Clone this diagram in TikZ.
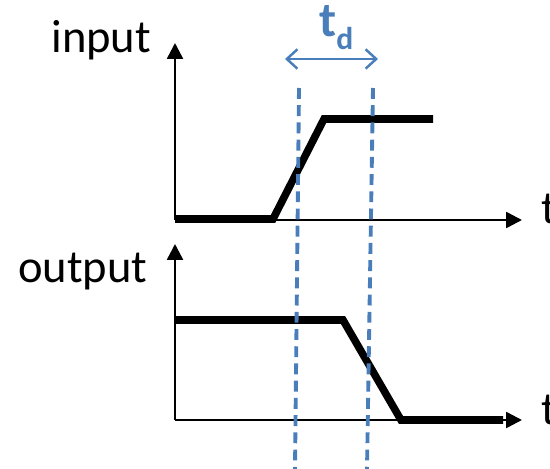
\documentclass[tikz,border=0pt]{standalone}
\usepackage{fontspec}
\setmainfont{Carlito}
\usetikzlibrary{arrows.meta}
\definecolor{tdblue}{HTML}{4A7EBB}
\tikzset{
  axis/.style={line width=1.4pt, -{Triangle[length=9pt,width=9pt]}},
  signal/.style={line width=4.3pt, line join=miter},
  marker/.style={tdblue, line width=2.2pt, dash pattern=on 6.2pt off 3.6pt},
  lbl/.style={font=\fontsize{26.5}{30}\selectfont, inner sep=0pt},
}

\begin{document}
\begin{tikzpicture}[x=0.02cm, y=-0.02cm]
\useasboundingbox (0,0) rectangle (550,469);
\clip (0,0) rectangle (550,469);

% axes
\coordinate (inO) at (175,220);
\coordinate (inY) at (175,43);
\coordinate (inX) at (522,220);
\coordinate (outO) at (175,420);
\coordinate (outY) at (175,244);
\coordinate (outX) at (522,420);
\draw[axis] (inO) -- (inY);
\draw[axis] (inO) -- (inX);
\draw[axis] (outO) -- (outY);
\draw[axis] (outO) -- (outX);

\node[lbl, anchor=base west] (inlbl) at (51,53) {input};
\node[lbl, anchor=base west] (outlbl) at (18,282) {output};
\node[lbl, anchor=base west] (intlbl) at (541,224) {t};
\node[lbl, anchor=base west] (outtlbl) at (541,424) {t};

% signals
\draw[signal] (175,219) -- (273,219) -- (324,119) -- (433,119);
\draw[signal] (175,320) -- (343,320) -- (401,420) -- (503,420);

% delay markers
\coordinate (mkAtop) at (299,88);
\coordinate (mkAbot) at (295,469);
\coordinate (mkBtop) at (373,88);
\coordinate (mkBbot) at (367,469);
\draw[marker] (mkAtop) -- (mkAbot);
\draw[marker] (mkBtop) -- (mkBbot);

\coordinate (tdL) at (285,59);
\coordinate (tdR) at (378,59);
\draw[tdblue, line width=1.4pt, {Straight Barb[length=6pt,width=11pt]}-{Straight Barb[length=6pt,width=11pt]}] (tdL) -- (tdR);
\node[anchor=base west, inner sep=0pt, text=tdblue, font=\bfseries] (tdlbl) at (319,37)
  {\fontsize{28}{32}\selectfont t\raisebox{-7pt}{\fontsize{18}{20}\selectfont d}};
\end{tikzpicture}
\end{document}
